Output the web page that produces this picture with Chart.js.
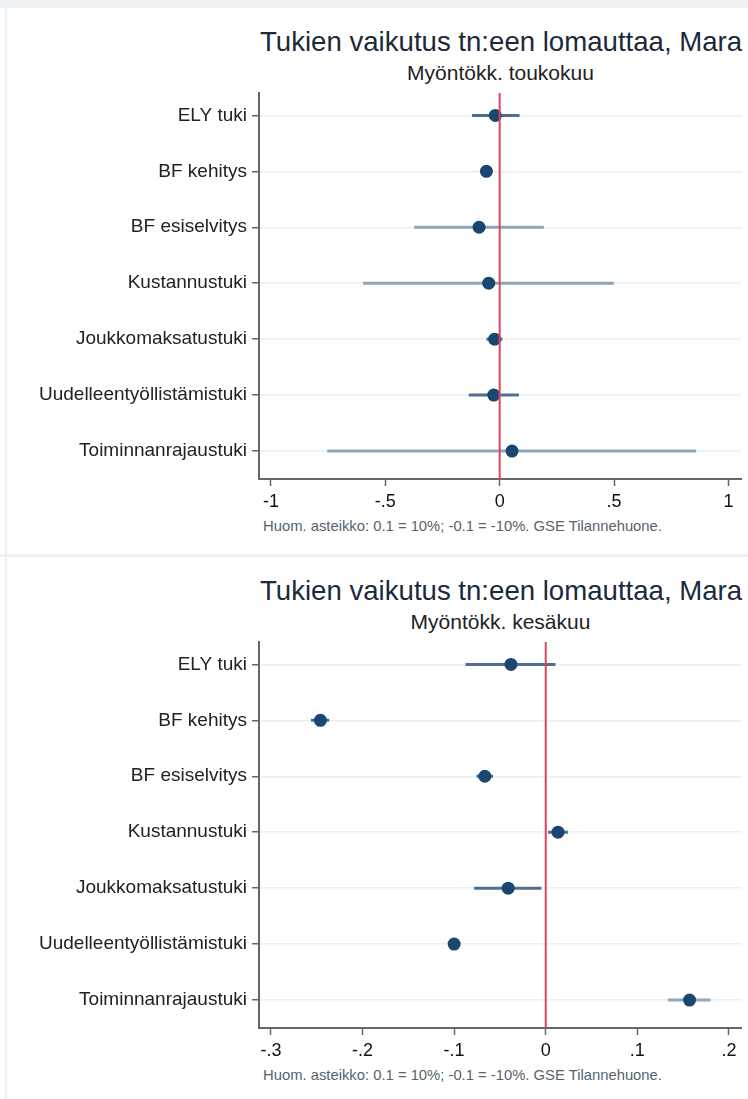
<!DOCTYPE html>
<html>
<head>
<meta charset="utf-8">
<script src="https://cdn.jsdelivr.net/npm/chart.js@4/dist/chart.umd.min.js"></script>
<style>
  body { margin: 0; background: #fff; font-family: 'Liberation Sans', Arial, sans-serif; }
  #page { position: relative; width: 748px; height: 1099px; overflow: hidden; }
  .band { position: absolute; background: #eef2f5; }
  .panel { position: absolute; left: 0; width: 748px; height: 549px; }
  .title { position: absolute; left: 260px; top: 28px; font-size: 27.6px; line-height: 28px; color: #1b2a3a; white-space: nowrap; }
  .subtitle { position: absolute; left: 259px; width: 483px; top: 62px; font-size: 21px; line-height: 21px; color: #222; text-align: center; white-space: nowrap; }
  .note { position: absolute; left: 263px; top: 519px; font-size: 14.8px; line-height: 15px; color: #55636f; white-space: nowrap; }
  .wrap { position: absolute; left: 0; top: 85px; width: 748px; height: 430px; }
</style>
</head>
<body>
<div id="page">
  <div class="band" style="left:0;top:0;width:748px;height:8px"></div>
  <div class="band" style="left:5px;top:0;width:2px;height:1099px"></div>
  <div class="band" style="left:0;top:554px;width:748px;height:3px"></div>

  <div class="panel" style="top:0">
    <div class="title">Tukien vaikutus tn:een lomauttaa, Mara</div>
    <div class="subtitle">Myöntökk. toukokuu</div>
    <div class="wrap"><canvas id="chart-touko" width="748" height="430"></canvas></div>
    <div class="note">Huom. asteikko: 0.1 = 10%; -0.1 = -10%. GSE Tilannehuone.</div>
  </div>

  <div class="panel" style="top:549px">
    <div class="title">Tukien vaikutus tn:een lomauttaa, Mara</div>
    <div class="subtitle">Myöntökk. kesäkuu</div>
    <div class="wrap"><canvas id="chart-kesa" width="748" height="430"></canvas></div>
    <div class="note">Huom. asteikko: 0.1 = 10%; -0.1 = -10%. GSE Tilannehuone.</div>
  </div>
</div>

<script>
// Tukimuodot (rivit ylhäältä alas)
const categories = ['ELY tuki', 'BF kehitys', 'BF esiselvitys', 'Kustannustuki',
    'Joukkomaksatustuki', 'Uudelleentyöllistämistuki', 'Toiminnanrajaustuki'];

// Toukokuu: piste-estimaatit ja luottamusvälit
const toukoCoef = [-0.019, -0.058, -0.090, -0.048, -0.022, -0.026, 0.054];
const toukoLo   = [-0.121, -0.070, -0.374, -0.597, -0.058, -0.135, -0.754];
const toukoHi   = [ 0.087, -0.046,  0.193,  0.499,  0.012,  0.084,  0.859];
const toukoCiLight = [false, false, true, true, false, false, true];
const toukoTicks = [-1, -0.5, 0, 0.5, 1];

// Kesäkuu
const kesaCoef = [-0.038, -0.246, -0.0665, 0.0134, -0.041, -0.100, 0.157];
const kesaLo   = [-0.0876, -0.2563, -0.0756, 0.0025, -0.0782, -0.102, 0.1334];
const kesaHi   = [ 0.0106, -0.2363, -0.0575, 0.0243, -0.0047, -0.098, 0.180];
const kesaCiLight = [false, false, false, false, false, false, true];
const kesaTicks = [-0.3, -0.2, -0.1, 0, 0.1, 0.2];

// Akselien rajat
const yMin = -0.4;
const yMax = 6.5;

const markerColor = '#1a476f';
const ciDark = '#4f6f90';
const ciLight = '#8fa7bd';
const zeroColor = '#d9465f';
const axisColor = '#666';
const fontFamily = "'Liberation Sans', Arial, sans-serif";

// Stata-tyylinen tikkimuoto: -.5, .5, 0, 1
function stataFmt(v) {
    if (Math.abs(v) < 1e-9) return '0';
    let s = String(+v.toFixed(3));
    return s.replace(/^(-?)0\./, '$1.');
}

function makePanel(canvasId, coef, lo, hi, lightFlags, ticks, xMin, xMax) {
    const ctx = document.getElementById(canvasId).getContext('2d');

    const datasets = [];

    // Nollaviiva päällimmäisenä
    datasets.push({
        type: 'scatter',
        showLine: true,
        data: [{ x: 0, y: yMin }, { x: 0, y: yMax }],
        borderColor: zeroColor,
        borderWidth: 2,
        pointRadius: 0
    });

    // Piste-estimaatit
    datasets.push({
        type: 'scatter',
        data: coef.map((c, i) => ({ x: c, y: i })),
        backgroundColor: markerColor,
        borderWidth: 0,
        pointRadius: 6.5
    });

    // Luottamusvälit
    categories.forEach((cat, i) => {
        datasets.push({
            type: 'scatter',
            showLine: true,
            data: [{ x: lo[i], y: i }, { x: hi[i], y: i }],
            borderColor: lightFlags[i] ? ciLight : ciDark,
            borderWidth: 3,
            pointRadius: 0
        });
    });

    new Chart(ctx, {
        type: 'scatter',
        data: { datasets: datasets },
        options: {
            responsive: false,
            animation: false,
            events: [],
            layout: { padding: { top: 8, right: 6, bottom: 0, left: 0 } },
            plugins: {
                legend: { display: false },
                tooltip: { enabled: false }
            },
            scales: {
                x: {
                    type: 'linear',
                    min: xMin,
                    max: xMax,
                    afterBuildTicks: scale => {
                        scale.ticks = ticks.map(v => ({ value: v }));
                    },
                    afterFit: scale => {
                        scale.height = 36;
                        scale.paddingLeft = 0;
                        scale.paddingRight = 0;
                    },
                    border: { display: true, color: axisColor, width: 2 },
                    grid: {
                        drawOnChartArea: false,
                        drawTicks: true,
                        tickLength: 7,
                        tickColor: axisColor,
                        tickWidth: 1.5
                    },
                    ticks: {
                        padding: 5,
                        color: '#111',
                        font: { family: fontFamily, size: 18 },
                        maxRotation: 0,
                        callback: v => stataFmt(v)
                    }
                },
                y: {
                    type: 'linear',
                    reverse: true,
                    min: yMin,
                    max: yMax,
                    afterBuildTicks: scale => {
                        scale.ticks = categories.map((c, i) => ({ value: i }));
                    },
                    afterFit: scale => {
                        scale.width = 259;
                        scale.paddingTop = 0;
                        scale.paddingBottom = 0;
                    },
                    border: { display: true, color: axisColor, width: 2 },
                    grid: {
                        color: '#e9f0f3',
                        lineWidth: 1.5,
                        drawTicks: true,
                        tickLength: 7,
                        tickColor: axisColor,
                        tickWidth: 1.5
                    },
                    ticks: {
                        padding: 5,
                        color: '#222',
                        font: { family: fontFamily, size: 19 },
                        callback: v => categories[Math.round(v)] || ''
                    }
                }
            }
        }
    });
}

makePanel('chart-touko', toukoCoef, toukoLo, toukoHi, toukoCiLight, toukoTicks, -1.052, 1.057);
makePanel('chart-kesa', kesaCoef, kesaLo, kesaHi, kesaCiLight, kesaTicks, -0.313, 0.2137);
</script>
</body>
</html>
